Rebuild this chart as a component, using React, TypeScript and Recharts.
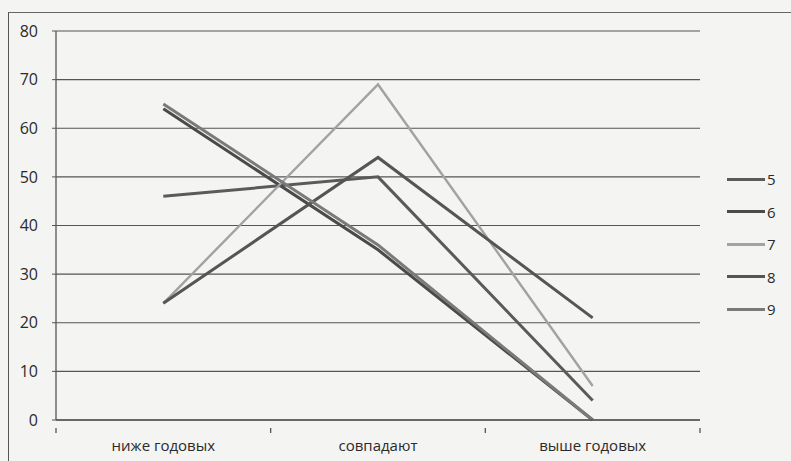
import React from 'react';
import { LineChart, Line, XAxis, YAxis, CartesianGrid } from 'recharts';

const categories = ['ниже годовых', 'совпадают', 'выше годовых'];
const seriesNames = ['5', '6', '7', '8', '9'];
const s5 = [46, 50, 4];
const s6 = [64, 35, 0];
const s7 = [24, 69, 7];
const s8 = [24, 54, 21];
const s9 = [65, 36, 0];
const yTicks = [0, 10, 20, 30, 40, 50, 60, 70, 80];

const seriesValues = [s5, s6, s7, s8, s9];
const COLORS: Record<string, string> = {
  '5': '#5a5a5a',
  '6': '#4a4a4a',
  '7': '#a2a2a2',
  '8': '#555555',
  '9': '#7a7a7a',
};

const data = categories.map((name, i) => {
  const row: Record<string, number | string> = { name, x: i + 0.5 };
  seriesNames.forEach((s, k) => {
    row[`s${s}`] = seriesValues[k][i];
  });
  return row;
});

const xTicks = [0, 0.5, 1, 1.5, 2, 2.5, 3];
const FONT = '"Open Sans", "Noto Sans", sans-serif';

function XTick(props: any) {
  const { x, y, payload } = props;
  const v = payload.value as number;
  if (Number.isInteger(v)) {
    return <line x1={x} x2={x} y1={y} y2={y + 5} stroke="#555" strokeWidth={1.3} />;
  }
  return (
    <text x={x} y={y + 23} textAnchor="middle" fill="#2a2a2a" fontSize={15} fontFamily={FONT}>
      {categories[Math.floor(v)]}
    </text>
  );
}

export default function App() {
  return (
    <div style={{ position: 'fixed', left: 0, top: 0, width: 791, height: 461, background: '#f4f4f3', overflow: 'hidden' }}>
      <div
        style={{
          position: 'absolute', left: 8, top: 12, width: 800, height: 460,
          borderLeft: '1.5px solid #555', borderTop: '1.5px solid #666',
        }}
      />
      <LineChart
        width={791}
        height={461}
        data={data}
        margin={{ top: 31, right: 91, bottom: 0, left: 0 }}
        style={{ position: 'absolute', left: 0, top: 0 }}
      >
        <CartesianGrid vertical={false} stroke="#555" strokeWidth={1.2} />
        <XAxis
          dataKey="x"
          type="number"
          domain={[0, 3]}
          ticks={xTicks}
          interval={0}
          tickLine={false}
          axisLine={{ stroke: '#555', strokeWidth: 1.3 }}
          tick={<XTick />}
          height={41}
        />
        <YAxis
          domain={[0, 80]}
          ticks={yTicks}
          interval={0}
          width={56}
          tickSize={4}
          tickMargin={14}
          axisLine={{ stroke: '#555', strokeWidth: 1.3 }}
          tickLine={{ stroke: '#555' }}
          tick={{ fill: '#2a2a2a', fontSize: 16, fontFamily: FONT }}
        />
        {seriesNames.map((s) => (
          <Line
            key={s}
            dataKey={`s${s}`}
            stroke={COLORS[s]}
            strokeWidth={s === '7' ? 2.4 : 3}
            dot={false}
            isAnimationActive={false}
          />
        ))}
      </LineChart>
      <div style={{ position: 'absolute', left: 727, top: 163, fontFamily: FONT, fontSize: 15, color: '#2a2a2a' }}>
        {seriesNames.map((s) => (
          <div key={s} style={{ display: 'flex', alignItems: 'center', height: 32.5 }}>
            <div style={{ width: 38, height: 3, background: COLORS[s] }} />
            <span style={{ marginLeft: 2 }}>{s}</span>
          </div>
        ))}
      </div>
    </div>
  );
}
